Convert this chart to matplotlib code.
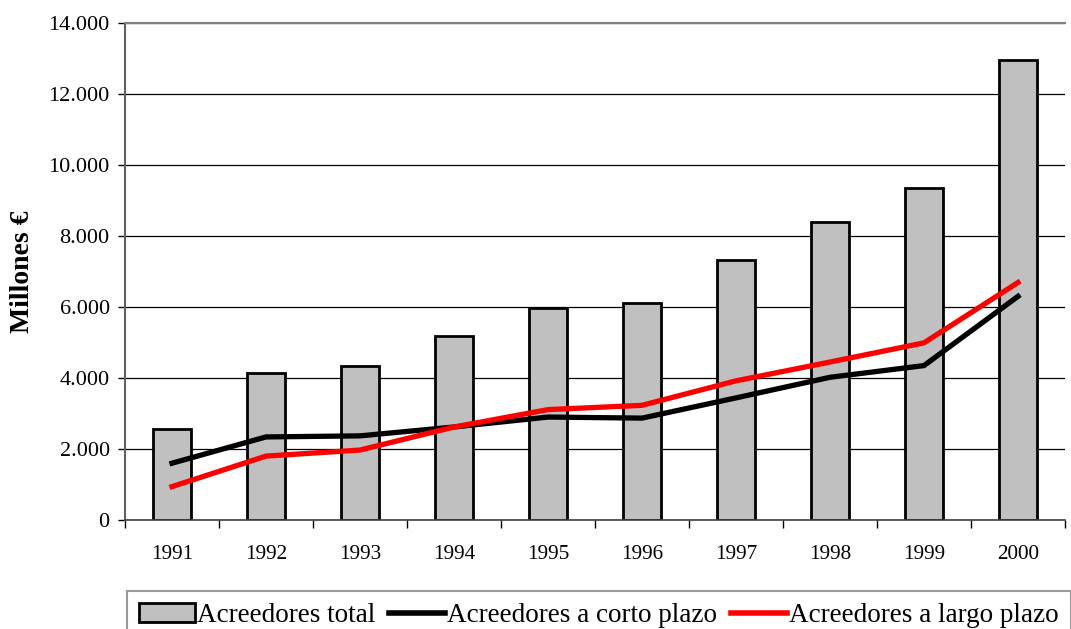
import numpy as np
import matplotlib.pyplot as plt
from matplotlib.patches import Patch
from matplotlib.lines import Line2D
from matplotlib.ticker import FuncFormatter, FixedLocator

plt.rcParams['font.family'] = ['Liberation Serif', 'DejaVu Serif']

years = ["1991", "1992", "1993", "1994", "1995", "1996", "1997", "1998", "1999", "2000"]
total = [2560, 4140, 4340, 5180, 5970, 6100, 7320, 8400, 9340, 12960]
corto = [1600, 2340, 2370, 2620, 2900, 2870, 3440, 4020, 4350, 6300]
largo = [940, 1800, 1970, 2620, 3110, 3230, 3920, 4450, 4990, 6690]


def fmt_miles(v, pos):
    return f"{int(v):,}".replace(",", ".")


def main() -> None:
    fig = plt.figure(figsize=(10.71, 6.29), dpi=100)
    ax = fig.add_axes([125 / 1071, 109 / 629, 940 / 1071, 497 / 629])

    x = np.arange(len(years))
    ax.bar(x, total, width=0.4, color="#c0c0c0", edgecolor="black", linewidth=2, zorder=2)
    ax.plot(x, corto, color="black", linewidth=3.8, zorder=3)
    ax.plot(x, largo, color="#ff0000", linewidth=3.8, zorder=4)

    ax.set_xlim(-0.5, len(years) - 0.5)
    ax.set_ylim(0, 14000)
    ax.set_yticks(np.arange(0, 14001, 2000))
    ax.yaxis.set_major_formatter(FuncFormatter(fmt_miles))
    ax.yaxis.grid(True, color="black", linewidth=0.9, zorder=0)
    ax.set_axisbelow(True)

    ax.set_xticks(x)
    ax.set_xticklabels(years)
    ax.xaxis.set_minor_locator(FixedLocator(np.arange(-0.5, len(years), 1)))
    ax.tick_params(axis="x", which="major", length=0, pad=18, labelsize=15.3)
    ax.tick_params(axis="x", which="minor", length=6, width=1, color="black")
    ax.tick_params(axis="y", length=5, width=1, labelsize=16, pad=6)

    ax.spines['right'].set_visible(False)
    ax.spines['top'].set_color("#808080")
    ax.spines['top'].set_linewidth(1.5)
    ax.spines['left'].set_color("#606060")
    ax.spines['left'].set_linewidth(1.5)
    ax.spines['bottom'].set_color("#404040")
    ax.spines['bottom'].set_linewidth(1.2)

    ax.set_ylabel("Millones €", fontsize=20, fontweight="bold", labelpad=10)

    handles = [
        Patch(facecolor="#c0c0c0", edgecolor="black", linewidth=2),
        Line2D([0], [0], color="black", linewidth=4),
        Line2D([0], [0], color="#ff0000", linewidth=4),
    ]
    labels = ["Acreedores total", "Acreedores a corto plazo", "Acreedores a largo plazo"]
    leg = fig.legend(handles, labels, loc="upper left", bbox_to_anchor=(127 / 1071, 1 - 591 / 629),
                     ncol=3, fontsize=19.5, frameon=True, fancybox=False, handlelength=2.05,
                     handleheight=0.7, handletextpad=0.1, columnspacing=0.5, borderpad=0.45,
                     borderaxespad=0)
    leg.get_frame().set_edgecolor("#808080")
    leg.get_frame().set_linewidth(1.5)

    fig.savefig("out.png", dpi=100)


if __name__ == "__main__":
    main()
